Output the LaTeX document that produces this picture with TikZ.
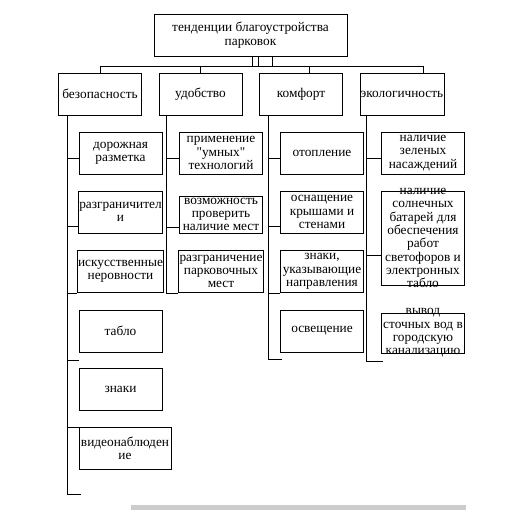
\documentclass[tikz,border=0pt]{standalone}
\usepackage{fontspec}
\setmainfont{Liberation Serif}[Ligatures=TeXOff]
\usetikzlibrary{calc}

\begin{document}
\begin{tikzpicture}[x=0.75pt,y=-0.75pt,
  box/.style={draw, line width=0.6pt, align=center, inner sep=0.5pt,
    minimum width=62.25pt, minimum height=31.5pt, font=\fontsize{10}{10}\selectfont},
  frame/.style={draw, line width=0.6pt, inner sep=0pt, minimum width=62.25pt},
  bare/.style={align=center, inner sep=0pt, font=\fontsize{10}{10}\selectfont}]
  \useasboundingbox (0,0) rectangle (517,510);
  % top and the four groups
  \path (250.5,35) node[box, minimum width=144.75pt] (top) {тенденции благоустройства\\парковок};
  \path (100,94)   node[box] (bez)  {безопасность};
  \path (200.5,94) node[box] (udob) {удобство};
  \path (301,94)   node[box] (komf) {комфорт};
  \path (402,94)   node[box] (eco)  {экологичность};
  % safety
  \path (120.5,153)   node[box] (dor)   {дорожная\\разметка};
  \path (120.5,212)   node[box] (razgr) {разграничител\\и};
  \path (120.5,271.5) node[box] (isk)   {искусственные\\неровности};
  \path (120.5,331)   node[box] (tablo) {табло};
  \path (120.5,389.5) node[box] (znaki) {знаки};
  \path (125,448.5)   node[box, minimum width=69pt] (video) {видеонаблюден\\ие};
  % convenience
  \path (221,153)   node[box] (prim)   {применение\\"умных"\\технологий};
  \path (221,214.5) node[box, minimum height=27.75pt] (vozm) {возможность\\проверить\\наличие мест};
  \path (221,271.5) node[box] (razgrP) {разграничение\\парковочных\\мест};
  % comfort
  \path (322,153)   node[box] (otop)   {отопление};
  \path (322,212)   node[box] (osn)    {оснащение\\крышами и\\стенами};
  \path (322,271.5) node[box] (znakiN) {знаки,\\указывающие\\направления};
  \path (322,331)   node[box] (osv)    {освещение};
  % ecology
  \path (423,153) node[box] (zel) {наличие\\зеленых\\насаждений};
  \path (423,238) node[frame, minimum height=70.5pt] (solar) {};
  \path (solar)   node[bare] (solarT) {наличие\\солнечных\\батарей для\\обеспечения\\работ\\светофоров и\\электронных\\табло};
  \path (423,333) node[frame, minimum height=30pt] (vyvod) {};
  \path (vyvod)   node[bare] (vyvodT) {вывод\\сточных вод в\\городскую\\канализацию};

  \begin{scope}[line width=0.6pt]
    \draw ($(top.south)+(7.5,0)$) -- ++(0,10) -| (bez.north);
    \draw ($(top.south)+(1.5,0)$) -- ++(0,10) -| (udob.north);
    \draw ($(top.south)+(21.5,0)$) -- ++(0,10) -| ($(komf.north)+(8,0)$);
    \draw ($(top.south)+(7.5,0)$) -- ++(0,10) -| ($(eco.north)+(21,0)$);

    \coordinate (bezS)  at ($(bez.south west)+(9,0)$);
    \coordinate (udobS) at ($(udob.south west)+(8,0)$);
    \coordinate (komfS) at ($(komf.south west)+(9,0)$);
    \coordinate (ecoS)  at ($(eco.south west)+(7,0)$);
    \coordinate (bezTip)  at (81,494);
    \coordinate (komfTip) at (282,359);
    \coordinate (ecoTip)  at (383,361);

    \draw (bezS) |- (bezTip);
    \draw (bezS |- 0,158) -- (dor.west |- 0,158);
    \draw (bezS |- 0,226) -- (razgr.west |- 0,226);
    \draw (bezS |- 0,293) -- (isk.west |- 0,293);
    \draw (bezS |- 0,360) -- (tablo.west |- 0,360);
    \draw (bezS |- 0,427) -- (video.west |- 0,427);

    \draw (udobS) |- (razgrP.west |- 0,293);
    \draw (udobS |- 0,158) -- (prim.west |- 0,158);
    \draw (udobS |- 0,227) -- (vozm.west |- 0,227);

    \draw (komfS) |- (komfTip);
    \draw (komfS |- 0,158) -- (otop.west |- 0,158);
    \draw (komfS |- 0,226) -- (osn.west |- 0,226);
    \draw (komfS |- 0,293) -- (znakiN.west |- 0,293);

    \draw (ecoS) |- (ecoTip);
    \draw (ecoS |- 0,158) -- (zel.west |- 0,158);
    \draw (ecoS |- 0,255) -- (solar.west |- 0,255);
  \end{scope}
  \fill[gray!40] (131,505) rectangle (466,510);
\end{tikzpicture}
\end{document}
